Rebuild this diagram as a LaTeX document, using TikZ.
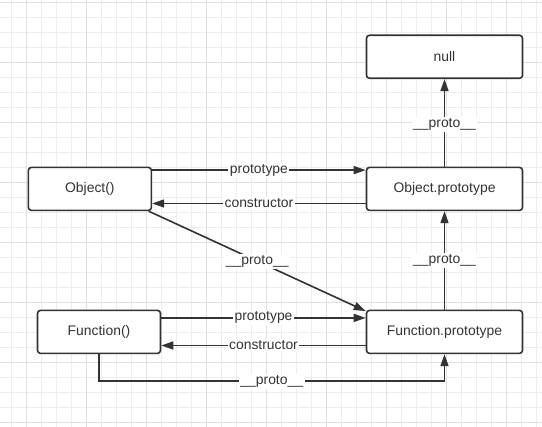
\documentclass[tikz,border=0pt]{standalone}
\usepackage{fontspec}
\setmainfont{Liberation Sans}
\usepackage{tikz}
\usetikzlibrary{arrows.meta}
\definecolor{inkgray}{HTML}{333333}
\definecolor{gridfaint}{HTML}{EDEDED}
\definecolor{gridstrong}{HTML}{E0E0E0}

\begin{document}
\begin{tikzpicture}[x=1pt,y=-1pt]
	\useasboundingbox (0,0) rectangle (542,427);
	\fill[white] (0,0) rectangle (542,427);
	% background grid
	\foreach \i in {0,...,35}
		\draw[gridfaint,line width=0.9pt] ({11.7+15*\i},0) -- ++(0,427);
	\foreach \i in {0,...,28}
		\draw[gridfaint,line width=0.9pt] (0,{2.3+15*\i}) -- ++(542,0);
	\foreach \i in {0,...,8}
		\draw[gridstrong,line width=1.1pt] ({26.7+60*\i},0) -- ++(0,427);
	\foreach \i in {0,...,7}
		\draw[gridstrong,line width=1.1pt] (0,{2.3+60*\i}) -- ++(542,0);

	\begin{scope}[every node/.style={draw=inkgray,line width=1.6pt,rounded corners=3pt,
			fill=white,text=inkgray,minimum height=43pt,font=\fontsize{13.9}{16}\selectfont}]
		\node[minimum width=156pt] (null) at (444.5,56.8) {null};
		\node[minimum width=156pt] (objproto) at (444.5,188.9) {Object.prototype};
		\node[minimum width=123pt] (obj) at (89.9,188.9) {Object()};
		\node[minimum width=123pt] (func) at (99,331.9) {Function()};
		\node[minimum width=156pt] (funcproto) at (444.5,331.9) {Function.prototype};
	\end{scope}

	\begin{scope}[>={Triangle[length=12pt,width=8pt]},
			every node/.style={fill=white,inner sep=1.5pt,text=inkgray,font=\fontsize{13.9}{16}\selectfont},
		every edge/.style={draw=inkgray,line width=1.6pt,->}]
		\path ([yshift=-3.5pt]obj.north east) edge node {prototype} ([yshift=-3.5pt]objproto.north west);
		\path ([yshift=7.7pt]objproto.south west) edge node {constructor} ([yshift=7.7pt]obj.south east);
		\path ([yshift=-8.3pt]func.north east) edge node {prototype} ([yshift=-8.3pt]funcproto.north west);
		\path ([yshift=8.7pt]funcproto.south west) edge node {constructor} ([yshift=8.7pt]func.south east);
		\path (objproto.north) edge node[yshift=-2pt] {\_\_proto\_\_} (null.south);
		\path (funcproto.north) edge node {\_\_proto\_\_} (objproto.south);
		\path ([xshift=-3.5pt]obj.south east) edge node {\_\_proto\_\_} ([yshift=-1.5pt]funcproto.north west);
		\draw[inkgray,line width=1.6pt,->] (func.south) -- ++(0,27) -| node[pos=0.25] {\_\_proto\_\_} (funcproto.south);
	\end{scope}
\end{tikzpicture}
\end{document}
